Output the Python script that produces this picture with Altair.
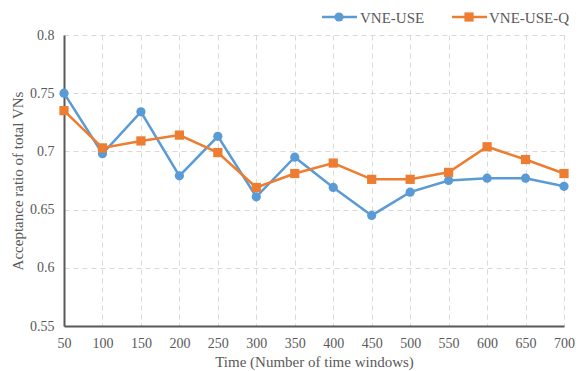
import altair as alt
import pandas as pd

times = [50, 100, 150, 200, 250, 300, 350, 400, 450, 500, 550, 600, 650, 700]
vne_use = [0.750, 0.698, 0.734, 0.679, 0.713, 0.661, 0.695, 0.669, 0.645, 0.665, 0.675, 0.677, 0.677, 0.670]
vne_use_q = [0.735, 0.703, 0.709, 0.714, 0.699, 0.669, 0.681, 0.690, 0.676, 0.676, 0.682, 0.704, 0.693, 0.681]
series_names = ["VNE-USE", "VNE-USE-Q"]
colors = ["#5B9BD5", "#ED7D31"]
y_ticks = [0.55, 0.6, 0.65, 0.7, 0.75, 0.8]
x_ticks = times

rows = []
for name, vals in zip(series_names, [vne_use, vne_use_q]):
    for t, v in zip(times, vals):
        rows.append({"time": t, "ratio": v, "series": name})
df = pd.DataFrame(rows)

FONT = "Liberation Serif"
TXT = "#595959"

color_scale = alt.Scale(domain=series_names, range=colors)
shape_scale = alt.Scale(domain=series_names, range=["circle", "square"])

x_enc = alt.X("time:Q", scale=alt.Scale(domain=[50, 700], nice=False),
              axis=alt.Axis(values=x_ticks, title="Time (Number of time windows)",
                            labelPadding=10, titlePadding=4, tickSize=0,
                            labelOverlap=False, labelFlush=False, labelBound=False,
                            gridDash=[5, 4], gridColor="#D9D9D9",
                            domainColor="#595959", domainWidth=2))
y_enc = alt.Y("ratio:Q", scale=alt.Scale(domain=[0.55, 0.8], nice=False, zero=False),
              axis=alt.Axis(values=y_ticks, format=".2~f", title="Acceptance ratio of total VNs",
                            labelPadding=10, titlePadding=4, tickSize=0,
                            labelOverlap=False, labelFlush=False,
                            gridDash=[5, 4], gridColor="#D9D9D9",
                            domainColor="#595959", domainWidth=2))

base = alt.Chart(df)
lines = base.mark_line(strokeWidth=2.5).encode(
    x=x_enc, y=y_enc,
    color=alt.Color("series:N", scale=color_scale, legend=None),
    detail="series:N",
)
points = base.mark_point(filled=True, opacity=1, size=85).encode(
    x=x_enc, y=y_enc,
    color=alt.Color("series:N", scale=color_scale, legend=None),
    shape=alt.Shape("series:N", scale=shape_scale, legend=None),
)

leg_layers = []
leg_x = [(258, 293, 275, 296), (388, 423, 405, 425)]
shapes = ["circle", "square"]
for name, col, shp, (x1, x2, xm, xt) in zip(series_names, colors, shapes, leg_x):
    d = alt.Data(values=[{"s": name}])
    leg_layers.append(alt.Chart(d).mark_rule(color=col, strokeWidth=2.5).encode(
        x=alt.value(x1), x2=alt.value(x2), y=alt.value(-18)))
    leg_layers.append(alt.Chart(d).mark_point(filled=True, opacity=1, size=85, shape=shp, color=col).encode(
        x=alt.value(xm), y=alt.value(-18)))
    leg_layers.append(alt.Chart(d).mark_text(align="left", baseline="middle", font=FONT,
                                             fontSize=15, color=TXT).encode(
        x=alt.value(xt), y=alt.value(-17), text="s:N"))

chart = alt.layer(lines, points, *leg_layers).properties(
    width=500, height=291,
    background="white",
    autosize=alt.AutoSizeParams(type="none"),
    padding={"left": 56, "top": 27, "right": 12, "bottom": 44},
).configure_view(stroke=None).configure_axis(
    labelFont=FONT, titleFont=FONT, labelFontSize=14, titleFontSize=15,
    labelColor=TXT, titleColor=TXT, titleFontWeight="normal",
    labelOverlap=False,
)

chart.save("out.html", embed_options={"renderer": "svg", "actions": False})
